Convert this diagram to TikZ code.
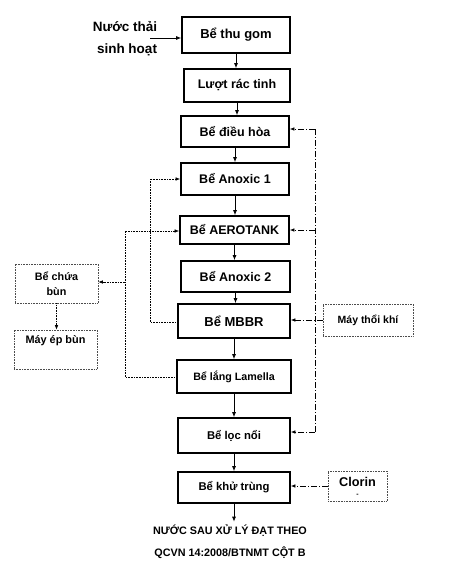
\documentclass[tikz,border=0pt]{standalone}
\usepackage{fontspec}
\setmainfont{Liberation Sans}
\usetikzlibrary{arrows.meta,calc}
\begin{document}
\begin{tikzpicture}[x=1pt,y=-1pt,
  mainbox/.style={draw,line width=1.7pt,inner sep=0pt,font=\bfseries},
  dbox/.style={draw=black!70,densely dotted,line width=0.6pt,inner sep=0pt,font=\bfseries},
  flow/.style={line width=0.8pt,-{Latex[length=5pt,width=4pt]}},
  dotflow/.style={densely dotted,line width=0.6pt,-{Latex[length=4.5pt,width=3.5pt]}},
  dashdot/.style={line width=0.7pt,dash pattern=on 6pt off 2pt on 1pt off 2pt},
  dashdotflow/.style={dashdot,-{Latex[length=4.5pt,width=3.5pt]}},
]
\useasboundingbox[fill=white] (0,0) rectangle (454,575);

% main column
\node[mainbox,minimum width=108pt,minimum height=36pt,font=\bfseries\fontsize{13}{15}\selectfont] (thu) at (236,35) {Bể thu gom};
\node[mainbox,minimum width=106pt,minimum height=33pt,font=\bfseries\fontsize{12.5}{15}\selectfont] (luot) at (237,85.5) {Lượt rác tinh};
\node[mainbox,minimum width=108pt,minimum height=31pt,font=\bfseries\fontsize{12.5}{15}\selectfont] (dieu) at (235,131.5) {Bể điều hòa};
\node[mainbox,minimum width=108pt,minimum height=32pt,font=\bfseries\fontsize{12.5}{15}\selectfont] (ano1) at (235,179) {Bể Anoxic 1};
\node[mainbox,minimum width=109pt,minimum height=28pt,font=\bfseries\fontsize{12.5}{15}\selectfont] (aero) at (234.5,230) {Bể AEROTANK};
\node[mainbox,minimum width=109pt,minimum height=31pt,font=\bfseries\fontsize{12.5}{15}\selectfont] (ano2) at (235.5,276.5) {Bể Anoxic 2};
\node[mainbox,minimum width=112pt,minimum height=34pt,font=\bfseries\fontsize{13}{15}\selectfont] (mbbr) at (234,321) {Bể MBBR};
\node[mainbox,minimum width=114pt,minimum height=33pt,font=\bfseries\fontsize{10.7}{13}\selectfont] (lam) at (234,376.5) {Bể lắng Lamella};
\node[mainbox,minimum width=112pt,minimum height=35pt,font=\bfseries\fontsize{11.3}{13}\selectfont] (loc) at (234,435.5) {Bể lọc nổi};
\node[mainbox,minimum width=112pt,minimum height=31pt,font=\bfseries\fontsize{11.3}{13}\selectfont] (khu) at (234,487.5) {Bể khử trùng};

% input
\node[font=\bfseries\fontsize{13.5}{15}\selectfont] (inA) at (125,27) {Nước thải};
\node[font=\bfseries\fontsize{13.5}{15}\selectfont] (inB) at (127,50) {sinh hoạt};
\coordinate (inS) at (150,38);
\draw[flow] (inS) -- (thu.west |- inS);

% output
\node[font=\bfseries\fontsize{10.8}{13}\selectfont] (out1) at (230,531) {NƯỚC SAU XỬ LÝ ĐẠT THEO};
\node[font=\bfseries\fontsize{10.8}{13}\selectfont] (out2) at (230,553) {QCVN 14:2008/BTNMT CỘT B};

% main arrows
\draw[flow] (thu.south) -- (thu.south |- luot.north);
\draw[flow] (luot.south) -- (luot.south |- dieu.north);
\draw[flow] (dieu.south) -- (dieu.south |- ano1.north);
\draw[flow] (ano1.south) -- (ano1.south |- aero.north);
\draw[flow] (aero.south) -- (aero.south |- ano2.north);
\draw[flow] (ano2.south) -- (ano2.south |- mbbr.north);
\draw[flow] (mbbr.south) -- (mbbr.south |- lam.north);
\draw[flow] (lam.south) -- (lam.south |- loc.north);
\draw[flow] (loc.south) -- (loc.south |- khu.north);
\draw[flow] (khu.south) -- (khu.south |- out1.north);

% sludge side
\node[dbox,minimum width=83pt,minimum height=39pt,align=center,font=\bfseries\fontsize{10.8}{15}\selectfont] (chua) at (56.5,283.5) {Bể chứa\\bùn};
\node[dbox,minimum width=83pt,minimum height=39pt] (ep) at (55.5,349.5) {};
\node[font=\bfseries\fontsize{10.9}{13}\selectfont] (eptxt) at (55.5,341) {Máy ép bùn};
\draw[dotflow] (chua.south) -- (chua.south |- ep.north);

% recirculation loops
\coordinate (l1a) at (150,322);
\coordinate (l1b) at (150,179);
\draw[dotflow] (mbbr.west |- l1a) -- (l1a) -- (l1b) -- (ano1.west |- l1b);
\coordinate (l2a) at (125,377);
\coordinate (l2b) at (125,231);
\coordinate (l2c) at (125,282);
\draw[dotflow] (lam.west |- l2a) -- (l2a) -- (l2b) -- (aero.west |- l2b);
\draw[dotflow] (l2c) -- (chua.east |- l2c);

% air blower
\node[dbox,minimum width=90pt,minimum height=32pt,font=\bfseries\fontsize{10.5}{12}\selectfont] (thoi) at (368,320) {Máy thổi khí};
\coordinate (v1) at (315,129);
\coordinate (v2) at (315,230);
\coordinate (v3) at (315,432);
\draw[dashdot] (v1) -- (v3);
\draw[dashdotflow] (v1) -- (dieu.east |- v1);
\draw[dashdotflow] (v2) -- (aero.east |- v2);
\draw[dashdotflow] (v3) -- (loc.east |- v3);
\draw[dashdotflow] (thoi.west) -- (mbbr.east |- thoi.west);

% chlorine
\node[dbox,minimum width=59pt,minimum height=30pt] (clo) at (357.5,486) {};
\node[font=\bfseries\fontsize{12.7}{14}\selectfont] (clotxt) at (357.5,482) {Clorin};
\node[font=\bfseries\fontsize{7}{8}\selectfont] (clomark) at (357.5,495.5) {-};
\draw[dashdotflow] (clo.west) -- (khu.east |- clo.west);
\end{tikzpicture}
\end{document}
